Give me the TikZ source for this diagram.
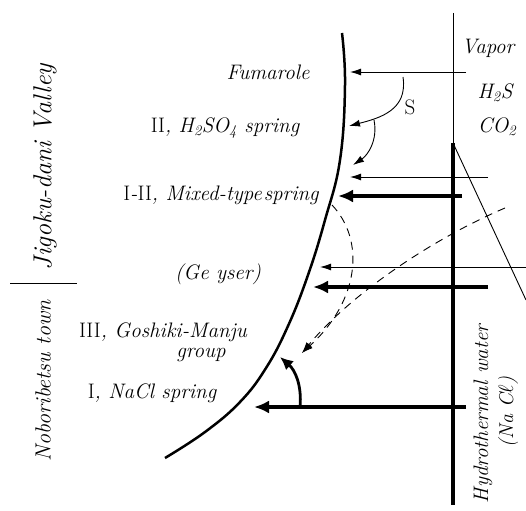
\documentclass[tikz,border=0pt]{standalone}
\usepackage{fontspec}
\usetikzlibrary{arrows.meta}
\newcommand{\rnum}[1]{\textup{#1}}
\tikzset{
  lab/.style={font=\fontsize{21}{24}\selectfont\itshape, inner sep=0pt},
  sidelab/.style={font=\fontsize{22}{24}\selectfont\itshape, inner sep=0pt, rotate=90},
  thinarr/.style={line width=0.9pt, -{Latex[length=11pt,width=7pt]}},
  thickarr/.style={line width=3.8pt, -{Latex[length=15pt,width=13pt]}},
  dasharr/.style={line width=0.9pt, dash pattern=on 8pt off 6pt, -{Latex[length=11pt,width=7pt]}},
}
\begin{document}
\begin{tikzpicture}[x=1pt,y=-1pt]
    \useasboundingbox (0,0) rectangle (526,510);

    % ground boundary
    \draw[line width=2.5pt] plot[smooth, tension=0.7] coordinates
        {(342,33) (345,85) (340,160) (325,220) (308,275) (288,326)
         (266,368) (240,402) (205,432) (165,458)};

    % vertical column and its limit
    \coordinate (vtop) at (453,13);
    \coordinate (vmid) at (453,143);
    \coordinate (vbot) at (453,505);
    \coordinate (dend) at (526,300);
    \draw[line width=0.9pt] (vtop) -- (vmid);
    \draw[line width=3.8pt] (vmid) -- (vbot);
    \draw[line width=0.9pt] (vmid) -- (dend);

    % side labels
    \node[sidelab, font=\fontsize{26}{28}\selectfont\itshape] (jigoku) at (45,167) {Jigoku-dani Valley};
    \node[sidelab] (nobori) at (43,381) {Noboribetsu town};
    \coordinate (sepL) at (10,283);
    \coordinate (sepR) at (77,283);
    \draw[line width=1pt] (sepL) -- (sepR);

    % spring labels
    \node[lab] (fum) at (268,72) {Fumarole};
    \node[lab] (acid) at (225,128) {\rnum{II}, H\textsubscript{2}SO\textsubscript{4} spring};
    \node[lab] (mixed) at (221,195) {\rnum{I}-\rnum{II}, Mixed-type\kern0.1em spring};
    \node[lab] (geyser) at (218,274) {(Ge yser)};
    \node[lab] (goshiki) at (163,332) {\rnum{III}, Goshiki-Manju};
    \node[lab] (group) at (201,355) {group};
    \node[lab] (nacl) at (152,393) {\rnum{I}, NaCl spring};

    % gas and water labels
    \node[lab] (vapor) at (488,48) {Vapor};
    \node[lab] (hs) at (495,93) {H\textsubscript{2}S};
    \node[lab] (co) at (497,127) {CO\textsubscript{2}};
    \node[lab, font=\fontsize{21}{24}\selectfont] (sul) at (410,107) {S};
    \node[sidelab, font=\fontsize{21}{23}\selectfont\itshape] (hydro) at (483,414) {Hydrothermal water};
    \node[sidelab, font=\fontsize{20}{22}\selectfont\itshape] (nacw) at (508,412) {(Na C$\ell$)};

    % horizontal arrows
    \coordinate (a1t) at (466,72);  \coordinate (a1h) at (350,72);
    \coordinate (a2t) at (488,177); \coordinate (a2h) at (350,177);
    \coordinate (a3t) at (462,196); \coordinate (a3h) at (338,196);
    \coordinate (a4t) at (526,267); \coordinate (a4h) at (320,267);
    \coordinate (a5t) at (488,287); \coordinate (a5h) at (313,287);
    \coordinate (a6t) at (466,407); \coordinate (a6h) at (254,407);
    \draw[thinarr] (a1t) -- (a1h);
    \draw[thinarr] (a2t) -- (a2h);
    \draw[thickarr] (a3t) -- (a3h);
    \draw[thinarr] (a4t) -- (a4h);
    \draw[thickarr] (a5t) -- (a5h);
    \draw[thickarr] (a6t) -- (a6h);

    % sulphur arrows
    \coordinate (s1) at (403,77);  \coordinate (s1h) at (349,126);
    \coordinate (s2) at (374,120); \coordinate (s2h) at (353,165);
    \draw[thinarr] (s1) .. controls (408,110) and (380,118) .. (s1h);
    \draw[thinarr] (s2) .. controls (378,140) and (368,155) .. (s2h);

    % mixing paths
    \coordinate (dA) at (332,205);
    \coordinate (dB) at (505,208);
    \coordinate (dH) at (302,353);
    \draw[dasharr] (dA) .. controls (365,240) and (360,300) .. (dH);
    \draw[dasharr] (dB) .. controls (430,240) and (350,295) .. (dH);

    % rise of NaCl water
    \coordinate (up0) at (300,407);
    \coordinate (up1) at (280,357);
    \draw[line width=2.8pt, -{Latex[length=13pt,width=12pt]}] (up0) .. controls (302,385) and (295,370) .. (up1);
\end{tikzpicture}
\end{document}
